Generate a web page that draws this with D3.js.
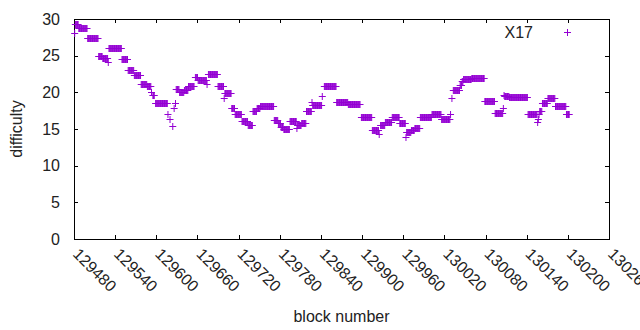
<!DOCTYPE html>
<html>
<head>
<meta charset="utf-8">
<script src="https://cdn.jsdelivr.net/npm/d3@7"></script>
<style>
  body { margin: 0; background: #fff; }
  text { font-family: "Liberation Sans", Arial, sans-serif; font-size: 16px; fill: #222; }
</style>
</head>
<body>
<div id="chart"></div>
<script>
// difficulty runs: first block, last block, difficulty
var runStart = [129481, 129482, 129487, 129500, 129516, 129522, 129530, 129531, 129550, 129559,
  129568, 129578, 129587, 129593, 129595, 129599, 129617, 129620, 129624, 129626,
  129628, 129629, 129634, 129641, 129647, 129657, 129661, 129674, 129676, 129690,
  129699, 129700, 129710, 129715, 129725, 129734, 129741, 129747, 129752, 129772,
  129778, 129782, 129786, 129795, 129805, 129806, 129812, 129819, 129827, 129828,
  129842, 129845, 129863, 129880, 129899, 129915, 129925, 129927, 129934, 129944,
  129955, 129964, 129965, 129972, 129977, 129985, 130002, 130016, 130029, 130031,
  130033, 130043, 130046, 130048, 130060, 130079, 130094, 130106, 130107, 130108,
  130115, 130142, 130156, 130157, 130158, 130159, 130163, 130171, 130182, 130198];
var runEnd = [129481, 129486, 129499, 129515, 129521, 129529, 129530, 129549, 129558, 129567,
  129577, 129586, 129592, 129593, 129597, 129616, 129617, 129620, 129624, 129626,
  129628, 129633, 129640, 129646, 129655, 129660, 129673, 129674, 129689, 129698,
  129699, 129709, 129714, 129724, 129733, 129740, 129746, 129751, 129771, 129777,
  129781, 129785, 129794, 129804, 129805, 129811, 129818, 129826, 129827, 129841,
  129842, 129862, 129879, 129897, 129914, 129924, 129925, 129933, 129943, 129954,
  129963, 129964, 129971, 129976, 129984, 130001, 130015, 130028, 130029, 130031,
  130042, 130045, 130047, 130059, 130078, 130093, 130105, 130106, 130107, 130114,
  130141, 130155, 130156, 130157, 130158, 130162, 130170, 130181, 130197, 130202];
var runDiff = [28.1, 29.3, 28.8, 27.4, 25.0, 24.7, 24.1, 26.05, 24.5, 23.1,
  22.3, 21.2, 20.9, 20.1, 19.6, 18.6, 17.0, 16.4, 15.45, 17.9,
  18.5, 20.5, 20.0, 20.3, 20.8, 22.1, 21.7, 21.1, 22.5, 20.8,
  19.2, 19.9, 17.9, 17.0, 16.05, 15.6, 17.45, 17.8, 18.1, 16.2,
  15.8, 15.3, 15.0, 16.1, 15.2, 15.5, 15.75, 17.45, 18.7, 18.3,
  19.5, 20.8, 18.7, 18.4, 16.7, 14.8, 14.3, 15.6, 15.95, 16.7,
  15.8, 13.95, 14.6, 14.85, 15.1, 16.7, 17.05, 16.3, 17.1, 19.2,
  20.3, 21.0, 21.5, 21.8, 21.95, 18.85, 17.2, 17.8, 19.7, 19.55,
  19.3, 17.0, 15.9, 16.3, 17.0, 17.5, 18.6, 19.2, 18.1, 17.1];

var xTickValues = d3.range(129480, 130261, 60);
var yTickValues = [0, 5, 10, 15, 20, 25, 30];
var seriesName = "X17";

var width = 640;
var height = 330;
var margin = { top: 19, right: 31, bottom: 91, left: 74 };
var plotColor = "#9400d3";
var tickLen = 4;

var svg = d3.select("#chart")
    .append("svg")
    .attr("width", width)
    .attr("height", height);

var xScale = d3.scaleLinear()
    .domain([129480, 130260])
    .range([margin.left, width - margin.right]);

var yScale = d3.scaleLinear()
    .domain([0, 30])
    .range([height - margin.bottom, margin.top]);

// one point per block, each run keeps its difficulty
var points = [];
runStart.forEach(function(s, i) {
    for (var b = s; b <= runEnd[i]; b++) {
        points.push({ block: b, diff: runDiff[i] });
    }
});

// gnuplot style "+" marker
function crossPath(size) {
    return "M" + (-size) + ",0H" + size + "M0," + (-size) + "V" + size;
}

// axes, ticks drawn inward and mirrored like gnuplot
var x0 = margin.left, x1 = width - margin.right;
var y0 = height - margin.bottom, y1 = margin.top;

var bottomAxis = d3.axisBottom(xScale).tickValues(xTickValues).tickSize(-tickLen).tickFormat("");
var topAxis = d3.axisTop(xScale).tickValues(xTickValues).tickSize(-tickLen).tickFormat("");
var leftAxis = d3.axisLeft(yScale).tickValues(yTickValues).tickSize(-tickLen).tickFormat("");
var rightAxis = d3.axisRight(yScale).tickValues(yTickValues).tickSize(-tickLen).tickFormat("");

svg.append("g").attr("transform", "translate(0," + y0 + ")").call(bottomAxis);
svg.append("g").attr("transform", "translate(0," + y1 + ")").call(topAxis);
svg.append("g").attr("transform", "translate(" + x0 + ",0)").call(leftAxis);
svg.append("g").attr("transform", "translate(" + x1 + ",0)").call(rightAxis);
svg.selectAll(".domain").remove();
svg.selectAll(".tick line").attr("stroke", "#000").attr("shape-rendering", "crispEdges");

// frame
svg.append("rect")
    .attr("x", x0 + 0.5)
    .attr("y", y1 + 0.5)
    .attr("width", x1 - x0)
    .attr("height", y0 - y1)
    .attr("fill", "none")
    .attr("stroke", "#000")
    .attr("shape-rendering", "crispEdges");

// y tick labels
svg.append("g").selectAll("text")
    .data(yTickValues)
    .enter()
    .append("text")
    .attr("x", x0 - 14)
    .attr("y", function(d) { return yScale(d); })
    .attr("dy", "0.36em")
    .attr("text-anchor", "end")
    .text(function(d) { return d; });

// x tick labels, rotated down to the right (the last one runs off the edge, as in the original)
svg.append("g").selectAll("text")
    .data(xTickValues)
    .enter()
    .append("text")
    .attr("transform", function(d) {
        return "translate(" + (xScale(d) + 2) + "," + (y0 + 12) + ")rotate(45)";
    })
    .attr("dy", "0.36em")
    .attr("text-anchor", "start")
    .text(function(d) { return d; });

// axis titles
svg.append("text")
    .attr("x", (x0 + x1) / 2)
    .attr("y", 322)
    .attr("text-anchor", "middle")
    .text("block number");

svg.append("text")
    .attr("transform", "translate(22," + ((y0 + y1) / 2) + ")rotate(-90)")
    .attr("text-anchor", "middle")
    .text("difficulty");

// the points
svg.append("g")
    .selectAll("path")
    .data(points)
    .enter()
    .append("path")
    .attr("d", crossPath(3.5))
    .attr("transform", function(d) {
        return "translate(" + xScale(d.block) + "," + (Math.round(yScale(d.diff)) + 0.5) + ")";
    })
    .attr("fill", "none")
    .attr("stroke", plotColor)
    .attr("stroke-width", 1);

// key
svg.append("text")
    .attr("x", 533)
    .attr("y", 32)
    .attr("dy", "0.36em")
    .attr("text-anchor", "end")
    .text(seriesName);

svg.append("path")
    .attr("d", crossPath(3.5))
    .attr("transform", "translate(567.5,32.5)")
    .attr("fill", "none")
    .attr("stroke", plotColor)
    .attr("stroke-width", 1);
</script>
</body>
</html>
